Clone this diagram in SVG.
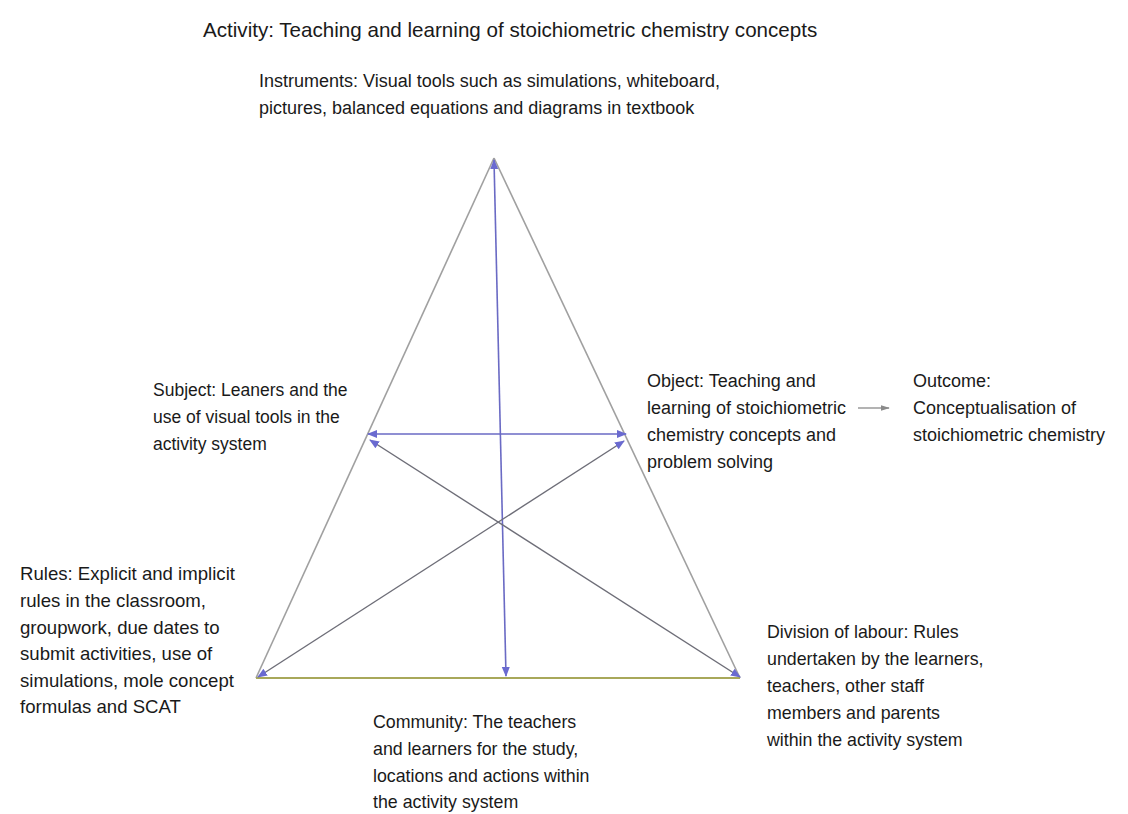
<svg xmlns="http://www.w3.org/2000/svg" width="1128" height="814" viewBox="0 0 1128 814">
<style>
text{font-family:"Liberation Sans",Arial,sans-serif;font-size:17.8px;fill:#1a1a1a}
#activity text{font-size:20.6px}
#instruments text{font-size:18px}
#subject text{font-size:17.5px}
#object text,#outcome text{font-size:18px}
#rules text{font-size:18.6px}
.edge{stroke:#a0a0a0;stroke-width:1.6;fill:none}
.base{stroke:#a8a85a;stroke-width:2;fill:none}
.blue{stroke:#6a6ac4;stroke-width:1.6;fill:none}
.gray{stroke:#6e6e78;stroke-width:1.4;fill:none}
</style>
<defs>
<marker id="ah" viewBox="0 0 10 10" refX="9" refY="5" markerWidth="10" markerHeight="10" markerUnits="userSpaceOnUse" orient="auto-start-reverse">
<path d="M0,1 L10,5 L0,9 Z" fill="#6a6ad0"/>
</marker>
<marker id="ag" viewBox="0 0 10 10" refX="9" refY="5" markerWidth="9" markerHeight="9" markerUnits="userSpaceOnUse" orient="auto">
<path d="M0,2 L10,5 L0,8 Z" fill="#8a8a8a"/>
</marker>
</defs>
<rect width="1128" height="814" fill="#ffffff"/>
<g id="triangle">
<line class="edge" x1="494" y1="158" x2="256" y2="678"/>
<line class="edge" x1="494" y1="158" x2="740" y2="678"/>
<line class="base" x1="256" y1="678" x2="740" y2="678"/>
</g>
<g id="connectors">
<line class="blue" x1="494" y1="160" x2="506" y2="676" marker-start="url(#ah)" marker-end="url(#ah)"/>
<line class="blue" x1="368" y1="434" x2="626" y2="434" marker-start="url(#ah)" marker-end="url(#ah)"/>
<line class="gray" x1="370" y1="440" x2="740" y2="677" marker-start="url(#ah)" marker-end="url(#ah)"/>
<line class="gray" x1="624" y1="441" x2="258" y2="677" marker-start="url(#ah)" marker-end="url(#ah)"/>
<line stroke="#8a8a8a" stroke-width="1.3" x1="858" y1="408" x2="889" y2="408" marker-end="url(#ag)"/>
</g>
<g id="activity">
<text x="203" y="37">Activity: Teaching and learning of stoichiometric chemistry concepts</text>
</g>
<g id="instruments">
<text x="259" y="87">Instruments: Visual tools such as simulations, whiteboard,</text>
<text x="259" y="114">pictures, balanced equations and diagrams in textbook</text>
</g>
<g id="subject">
<text x="153" y="396">Subject: Leaners and the</text>
<text x="153" y="423">use of visual tools in the</text>
<text x="153" y="450">activity system</text>
</g>
<g id="object">
<text x="647" y="387">Object: Teaching and</text>
<text x="647" y="414">learning of stoichiometric</text>
<text x="647" y="441">chemistry concepts and</text>
<text x="647" y="468">problem solving</text>
</g>
<g id="outcome">
<text x="913" y="387">Outcome:</text>
<text x="913" y="414">Conceptualisation of</text>
<text x="913" y="441">stoichiometric chemistry</text>
</g>
<g id="rules">
<text x="20" y="580">Rules: Explicit and implicit</text>
<text x="20" y="607">rules in the classroom,</text>
<text x="20" y="634">groupwork, due dates to</text>
<text x="20" y="660">submit activities, use of</text>
<text x="20" y="687">simulations, mole concept</text>
<text x="20" y="713">formulas and SCAT</text>
</g>
<g id="division">
<text x="767" y="638">Division of labour: Rules</text>
<text x="767" y="665">undertaken by the learners,</text>
<text x="767" y="692">teachers, other staff</text>
<text x="767" y="719">members and parents</text>
<text x="767" y="746">within the activity system</text>
</g>
<g id="community">
<text x="373" y="728">Community: The teachers</text>
<text x="373" y="755">and learners for the study,</text>
<text x="373" y="782">locations and actions within</text>
<text x="373" y="808">the activity system</text>
</g>
</svg>
